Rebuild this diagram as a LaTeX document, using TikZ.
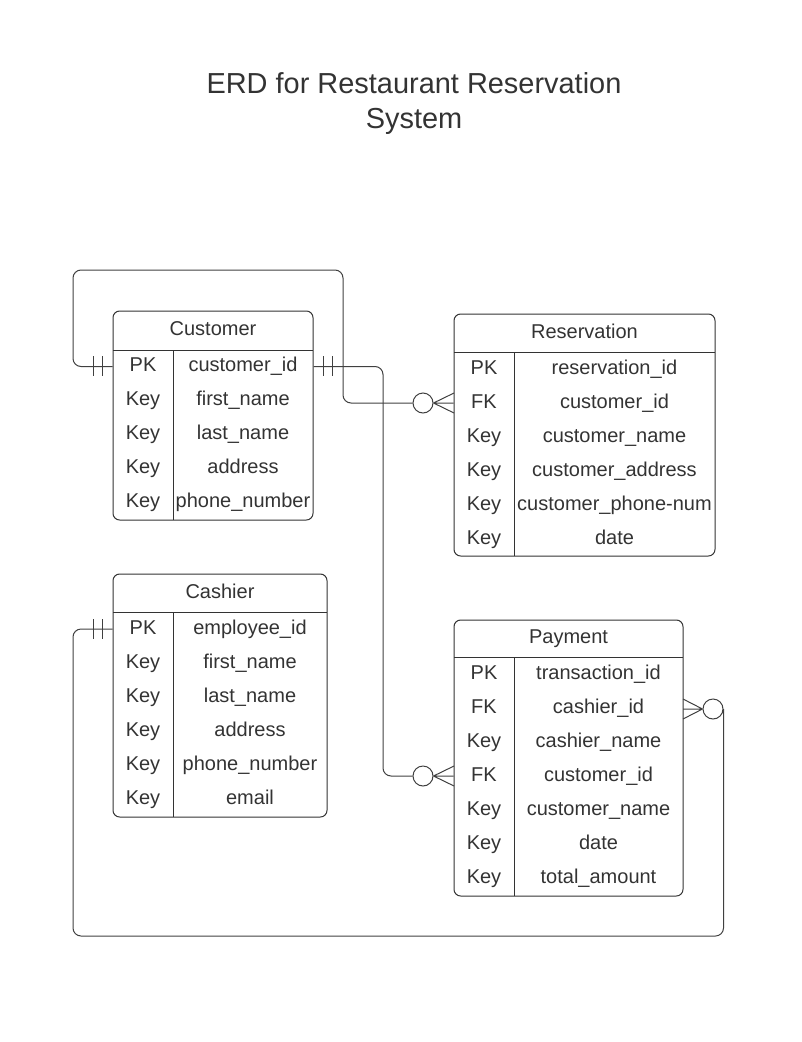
\documentclass[tikz,border=0pt]{standalone}
\usepackage{fontspec}
\setmainfont{Liberation Sans}
\begin{document}
\begin{tikzpicture}[x=0.75pt,y=-0.75pt,line width=0.75pt,
  tbl/.style={draw=black!80,rounded corners=5pt,inner sep=0},
  cell/.style={text=black!80,font=\fontsize{15}{18}\selectfont,inner sep=0,text height=10.7pt,text depth=3pt},
  conn/.style={draw=black!75,rounded corners=6pt},
  ring/.style={circle,draw=black!75,fill=white,minimum size=15pt,inner sep=0}]
\useasboundingbox (0,0) rectangle (802,1042);
\node[align=center,text=black!80,font=\fontsize{21.7}{26.25}\selectfont] (title) at (414,104) {ERD for Restaurant Reservation\\System};

% Customer
\node[tbl,minimum width=150pt,minimum height=156.75pt] (cust) at (213,415.5) {};
\draw[black!80] (113,350) -- (313,350) (173,350) -- (173,520);
\node[cell] (cust-h) at (213,330) {Customer};
\node[cell] (ck1) at (143,366.5) {PK}; \node[cell] (cv1) at (243,366.5) {customer\_id};
\node[cell] (ck2) at (143,400.5) {Key}; \node[cell] (cv2) at (243,400.5) {first\_name};
\node[cell] (ck3) at (143,434.5) {Key}; \node[cell] (cv3) at (243,434.5) {last\_name};
\node[cell] (ck4) at (143,468.5) {Key}; \node[cell] (cv4) at (243,468.5) {address};
\node[cell] (ck5) at (143,502.5) {Key}; \node[cell] (cv5) at (243,502.5) {phone\_number};

% Reservation
\node[tbl,minimum width=195.75pt,minimum height=181.5pt] (res) at (584.5,435) {};
\draw[black!80] (454,352) -- (715,352) (514,352) -- (514,556);
\node[cell] (res-h) at (584.5,333) {Reservation};
\node[cell] (rk1) at (484,369) {PK}; \node[cell] (rv1) at (614.5,369) {reservation\_id};
\node[cell] (rk2) at (484,403) {FK}; \node[cell] (rv2) at (614.5,403) {customer\_id};
\node[cell] (rk3) at (484,437) {Key}; \node[cell] (rv3) at (614.5,437) {customer\_name};
\node[cell] (rk4) at (484,471) {Key}; \node[cell] (rv4) at (614.5,471) {customer\_address};
\node[cell] (rk5) at (484,505) {Key}; \node[cell] (rv5) at (614.5,505) {customer\_phone-num};
\node[cell] (rk6) at (484,539) {Key}; \node[cell] (rv6) at (614.5,539) {date};

% Cashier
\node[tbl,minimum width=160.5pt,minimum height=182.25pt] (cash) at (220,695.5) {};
\draw[black!80] (113,612) -- (327,612) (173,612) -- (173,817);
\node[cell] (cash-h) at (220,593) {Cashier};
\node[cell] (ak1) at (143,629) {PK}; \node[cell] (av1) at (250,629) {employee\_id};
\node[cell] (ak2) at (143,663) {Key}; \node[cell] (av2) at (250,663) {first\_name};
\node[cell] (ak3) at (143,697) {Key}; \node[cell] (av3) at (250,697) {last\_name};
\node[cell] (ak4) at (143,731) {Key}; \node[cell] (av4) at (250,731) {address};
\node[cell] (ak5) at (143,765) {Key}; \node[cell] (av5) at (250,765) {phone\_number};
\node[cell] (ak6) at (143,799) {Key}; \node[cell] (av6) at (250,799) {email};

% Payment
\node[tbl,minimum width=171.75pt,minimum height=207pt] (pay) at (568.5,758) {};
\draw[black!80] (454,657) -- (683,657) (514,657) -- (514,896);
\node[cell] (pay-h) at (568.5,638.5) {Payment};
\node[cell] (pk1) at (484,674) {PK}; \node[cell] (pv1) at (598.5,674) {transaction\_id};
\node[cell] (pk2) at (484,708) {FK}; \node[cell] (pv2) at (598.5,708) {cashier\_id};
\node[cell] (pk3) at (484,742) {Key}; \node[cell] (pv3) at (598.5,742) {cashier\_name};
\node[cell] (pk4) at (484,776) {FK}; \node[cell] (pv4) at (598.5,776) {customer\_id};
\node[cell] (pk5) at (484,810) {Key}; \node[cell] (pv5) at (598.5,810) {customer\_name};
\node[cell] (pk6) at (484,844) {Key}; \node[cell] (pv6) at (598.5,844) {date};
\node[cell] (pk7) at (484,878) {Key}; \node[cell] (pv7) at (598.5,878) {total\_amount};

% relationships
\node[ring] (o1) at (423,403) {};
\node[ring] (o2) at (423,776) {};
\node[ring] (o3) at (713,709) {};
\draw[conn] (cust.west |- ck1) -| (73,270) -| (343,403) -- (o1);
\draw[conn] (cust.east |- ck1) -| (383,776) -- (o2);
\draw[conn] (cash.west |- ak1) -| (73,936) -| (o3.east);
\draw[black!75] (93,356) -- (93,376) (102,356) -- (102,376);
\draw[black!75] (323,356) -- (323,376) (332,356) -- (332,376);
\draw[black!75] (93,619) -- (93,639) (102,619) -- (102,639);
\draw[black!75] (o1.east) -- (454,393) (o1.east) -- (res.west |- rk2) (o1.east) -- (454,413);
\draw[black!75] (o2.east) -- (454,766) (o2.east) -- (pay.west |- pk4) (o2.east) -- (454,786);
\draw[black!75] (o3.west) -- (683,699) (o3.west) -- (683,709) (o3.west) -- (683,719);
\end{tikzpicture}
\end{document}
